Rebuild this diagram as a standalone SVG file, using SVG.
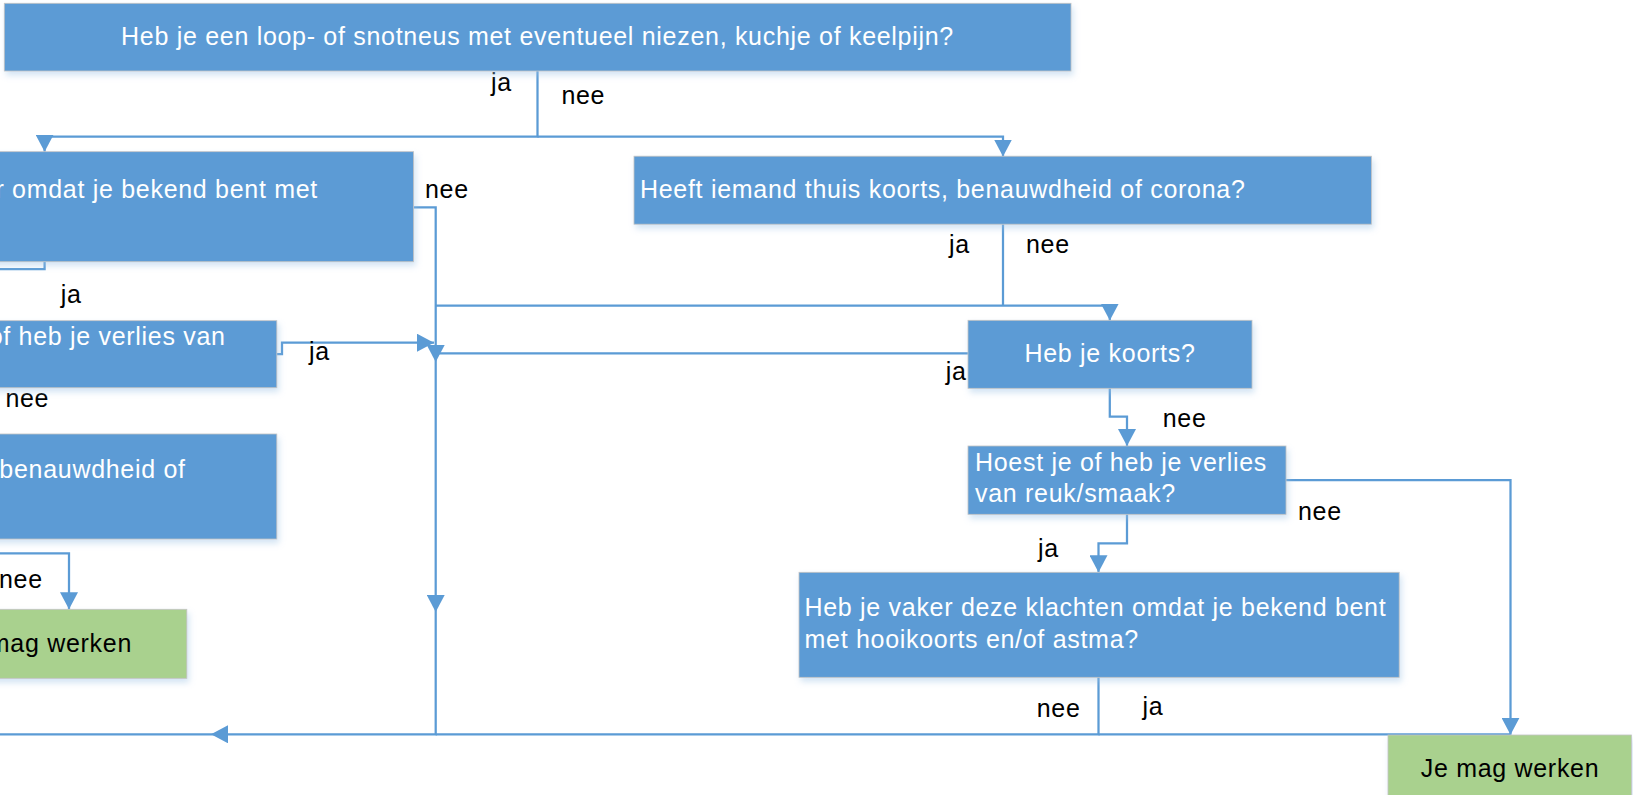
<svg xmlns="http://www.w3.org/2000/svg" width="1633" height="795" viewBox="0 0 1633 795">
<style>
  text { font-family: "Liberation Sans", Arial, sans-serif; font-size: 25px; letter-spacing: 0.7px; }
  .q rect { fill: #5B9BD5; stroke: #C4C4C4; stroke-width: 0.8; filter: url(#sh); }
  .ok rect { fill: #A9D18E; stroke: #C4C4C4; stroke-width: 0.8; filter: url(#sh); }
  .q text { fill: #FFFFFF; }
  .ok text { fill: #000000; }
  .lbl { fill: #000000; }
  #connectors path { fill: none; stroke: #5B9BD5; stroke-width: 2.25; }
  .arr { marker-end: url(#ah); }
</style>
<defs>
  <filter id="sh" x="-5%" y="-10%" width="115%" height="140%">
    <feDropShadow dx="2" dy="4" stdDeviation="3" flood-color="#9DC3E6" flood-opacity="0.45"/>
  </filter>
  <marker id="ah" markerUnits="userSpaceOnUse" viewBox="0 0 17 18" refX="17" refY="9" markerWidth="17" markerHeight="18" orient="auto">
    <path d="M0 0 L17 9 L0 18 Z" fill="#5B9BD5"/>
  </marker>
</defs>
<rect width="1633" height="795" fill="#FFFFFF"/>

<g id="connectors">
  <path class="arr" d="M537.5 71 V136.7 H44.6 V151.7"/>
  <path class="arr" d="M537.5 136.7 H1003 V156.5"/>
  <path d="M44.6 261.7 V269 H-5"/>
  <path d="M413.6 207.3 H435.7 V353.3"/>
  <path class="arr" d="M435.7 305.7 H1109.8 V320.5"/>
  <path d="M1003 224.3 V305.7"/>
  <path class="arr" d="M968 353.3 H435.7 V362"/>
  <path class="arr" d="M435.7 362 V612"/>
  <path class="arr" d="M435.7 612 V734.3 H211"/>
  <path d="M211 734.3 H-5"/>
  <path class="arr" d="M276.8 354 H282 V342.7 H434"/>
  <path class="arr" d="M-5 553.3 H69 V609.3"/>
  <path class="arr" d="M1109.8 388.3 V416.5 H1127 V446"/>
  <path class="arr" d="M1127 514.3 V543.3 H1098.5 V572.3"/>
  <path class="arr" d="M1286 480 H1510.5 V734.8"/>
  <path d="M1098.5 677.3 V734.3 H435.7"/>
  <path d="M1098.5 734.3 H1510.5"/>
</g>

<g id="labels">
  <text class="lbl" x="491" y="90.7">ja</text>
  <text class="lbl" x="561.4" y="104">nee</text>
  <text class="lbl" x="425" y="198">nee</text>
  <text class="lbl" x="60.7" y="302.7">ja</text>
  <text class="lbl" x="309" y="360">ja</text>
  <text class="lbl" x="5.4" y="406.7">nee</text>
  <text class="lbl" x="42.8" y="588.3" text-anchor="end">nee</text>
  <text class="lbl" x="949" y="253">ja</text>
  <text class="lbl" x="1026" y="253">nee</text>
  <text class="lbl" x="945.7" y="380">ja</text>
  <text class="lbl" x="1162.7" y="426.7">nee</text>
  <text class="lbl" x="1298" y="520">nee</text>
  <text class="lbl" x="1038" y="556.7">ja</text>
  <text class="lbl" x="1036.7" y="716.7">nee</text>
  <text class="lbl" x="1142.5" y="715">ja</text>
</g>

<g id="node-start" class="q">
  <rect x="4.3" y="3.3" width="1066.7" height="67.7"/>
  <text x="537.5" y="45" text-anchor="middle">Heb je een loop- of snotneus met eventueel niezen, kuchje of keelpijn?</text>
</g>
<g id="node-hooikoorts-left" class="q">
  <rect x="-20" y="151.7" width="433.6" height="110"/>
  <text x="318" y="198" text-anchor="end">r omdat je bekend bent met</text>
</g>
<g id="node-hoest-left" class="q">
  <rect x="-20" y="320.7" width="296.8" height="67"/>
  <text x="225.7" y="345" text-anchor="end">of heb je verlies van</text>
</g>
<g id="node-benauwd-left" class="q">
  <rect x="-20" y="434" width="296.8" height="105"/>
  <text x="185.7" y="478.3" text-anchor="end">benauwdheid of</text>
</g>
<g id="node-werken-left" class="ok">
  <rect x="-60" y="609.3" width="246.8" height="69"/>
  <text x="132" y="651.7" text-anchor="end">mag werken</text>
</g>
<g id="node-thuis" class="q">
  <rect x="634" y="156.2" width="737.4" height="68"/>
  <text x="640" y="198">Heeft iemand thuis koorts, benauwdheid of corona?</text>
</g>
<g id="node-koorts" class="q">
  <rect x="968" y="320.3" width="284" height="68"/>
  <text x="1110" y="361.7" text-anchor="middle">Heb je koorts?</text>
</g>
<g id="node-hoest" class="q">
  <rect x="968" y="446" width="318" height="68.3"/>
  <text x="975" y="470.7">Hoest je of heb je verlies</text>
  <text x="975" y="502.3">van reuk/smaak?</text>
</g>
<g id="node-hooikoorts" class="q">
  <rect x="799" y="572.3" width="600.2" height="105"/>
  <text x="804.5" y="616">Heb je vaker deze klachten omdat je bekend bent</text>
  <text x="804.5" y="648.3">met hooikoorts en/of astma?</text>
</g>
<g id="node-werken" class="ok">
  <rect x="1388" y="735" width="243.4" height="70"/>
  <text x="1510" y="777" text-anchor="middle">Je mag werken</text>
</g>
</svg>
